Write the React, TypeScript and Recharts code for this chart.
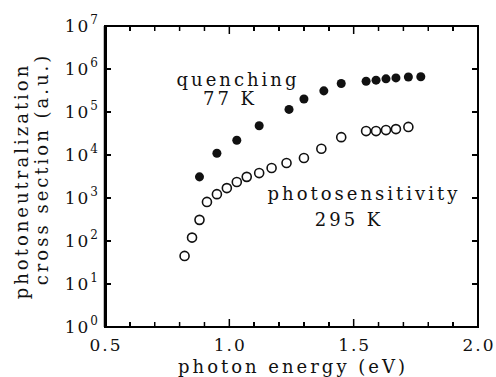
import React from "react";
import { ScatterChart, Scatter, XAxis, YAxis, ZAxis } from "recharts";

// quenching, 77 K (filled circles)
const quenchEnergy = [0.88, 0.95, 1.03, 1.12, 1.24, 1.3, 1.38, 1.45, 1.55, 1.59, 1.63, 1.67, 1.72, 1.77];
const quenchSigma = [3.1e3, 1.1e4, 2.2e4, 4.8e4, 1.15e5, 2.0e5, 3.1e5, 4.6e5, 5.2e5, 5.5e5, 5.9e5, 6.2e5, 6.5e5, 6.6e5];

// photosensitivity, 295 K (open circles)
const photoEnergy = [0.82, 0.85, 0.88, 0.91, 0.95, 0.99, 1.03, 1.07, 1.12, 1.17, 1.23, 1.3, 1.37, 1.45, 1.55, 1.59, 1.63, 1.67, 1.72];
const photoSigma = [45, 120, 310, 810, 1230, 1700, 2350, 3100, 3800, 5000, 6500, 8500, 1.4e4, 2.6e4, 3.6e4, 3.6e4, 3.8e4, 4.0e4, 4.5e4];

const xTicks = [0.5, 0.6, 0.7, 0.8, 0.9, 1.0, 1.1, 1.2, 1.3, 1.4, 1.5, 1.6, 1.7, 1.8, 1.9, 2.0];
const xLabels = ["0.5", "1.0", "1.5", "2.0"];
const yTicks = [1, 10, 100, 1e3, 1e4, 1e5, 1e6, 1e7];
const xDomain = [0.5, 2.0];
const yDomain = [1, 1e7];

const quenchData = quenchEnergy.map((x, i) => ({ x, y: quenchSigma[i] }));
const photoData = photoEnergy.map((x, i) => ({ x, y: photoSigma[i] }));

const FONT = "'DejaVu Serif', serif";
const INK = "#111";

// chart layout
const W = 496;
const H = 377;
const MARGIN_TOP = 25;
const MARGIN_RIGHT = 17;
const LEFT_W = 105;
const RIGHT_W = 1;
const TOP_H = 1;
const BOTTOM_H = 50;
const PLOT = {
  left: LEFT_W,
  top: MARGIN_TOP + TOP_H,
  right: W - MARGIN_RIGHT - RIGHT_W,
  bottom: H - BOTTOM_H,
};

const labelFor = (v: number) => xLabels.find((l) => Math.abs(parseFloat(l) - v) < 1e-6);

const BottomTick = (props: any) => {
  const { x, y, payload } = props;
  const label = labelFor(payload.value);
  const len = label ? 8 : 5;
  return (
    <g>
      <path d={`M${x},${y}V${y - len}`} stroke="#000" strokeWidth={1.5} fill="none" />
      {label && (
        <text x={x + 1} y={y + 24} textAnchor="middle" fontFamily={FONT} fontSize={17} letterSpacing={2} fill={INK}>
          {label}
        </text>
      )}
    </g>
  );
};

const TopTick = (props: any) => {
  const { x, y, payload } = props;
  const len = labelFor(payload.value) ? 8 : 5;
  return (
    <g>
      <path d={`M${x},${y}V${y + len}`} stroke="#000" strokeWidth={1.5} fill="none" />
    </g>
  );
};

const LeftTick = (props: any) => {
  const { x, y, payload } = props;
  const exp = Math.round(Math.log10(payload.value));
  return (
    <g>
      <path d={`M${x},${y}H${x + 6}`} stroke="#000" strokeWidth={1.5} fill="none" />
      <text x={x - 5} y={y + 6} textAnchor="end" fontFamily={FONT} fontSize={17} letterSpacing={2} fill={INK}>
        10
        <tspan dy={-8} fontSize={12}>
          {exp}
        </tspan>
      </text>
    </g>
  );
};

const RightTick = (props: any) => {
  const { x, y } = props;
  return (
    <g>
      <path d={`M${x},${y}H${x - 6}`} stroke="#000" strokeWidth={1.5} fill="none" />
    </g>
  );
};

const T = (p: { x: number; y: number; rotate?: boolean; children: string }) => (
  <text
    x={p.x}
    y={p.y}
    textAnchor="middle"
    dominantBaseline="central"
    fontFamily={FONT}
    fontSize={18}
    letterSpacing={3}
    fill={INK}
    transform={p.rotate ? `rotate(-90 ${p.x} ${p.y})` : undefined}
  >
    {p.children}
  </text>
);

const Texts = () => (
  <g>
    <T x={238} y={79}>quenching</T>
    <T x={230} y={98}>77 K</T>
    <T x={364} y={193}>photosensitivity</T>
    <T x={349} y={219}>295 K</T>
    <T x={293} y={366}>photon energy (eV)</T>
    <T x={21} y={181} rotate>photoneutralization</T>
    <T x={41} y={169} rotate>cross section (a.u.)</T>
  </g>
);

// plot frame and inward ticks drawn as plain html boxes over the plot area
const Frame = () => {
  const pw = PLOT.right - PLOT.left;
  const ph = PLOT.bottom - PLOT.top;
  const [x0, x1] = xDomain;
  const decades = Math.log10(yDomain[1] / yDomain[0]);
  const box = (key: string, left: number, top: number, width: number, height: number) => (
    <div key={key} style={{ position: "absolute", left, top, width, height, background: "#000" }} />
  );
  return (
    <div style={{ position: "absolute", left: 0, top: 0, width: W, height: H, pointerEvents: "none" }}>
      <div
        style={{
          position: "absolute",
          left: PLOT.left - 1.5,
          top: PLOT.top - 1,
          width: pw + 2.5,
          height: ph + 2,
          boxSizing: "border-box",
          border: "2px solid #000",
          borderLeftWidth: 3,
        }}
      />
      {xTicks.map((v) => {
        const px = PLOT.left + ((v - x0) / (x1 - x0)) * pw;
        const len = labelFor(v) ? 8 : 5;
        return (
          <React.Fragment key={`x${v}`}>
            {box(`b${v}`, px - 0.75, PLOT.bottom - len, 1.5, len)}
            {box(`t${v}`, px - 0.75, PLOT.top, 1.5, len)}
          </React.Fragment>
        );
      })}
      {yTicks.map((v) => {
        const py = PLOT.bottom - (Math.log10(v / yDomain[0]) / decades) * ph;
        return (
          <React.Fragment key={`y${v}`}>
            {box(`l${v}`, PLOT.left, py - 0.75, 6, 1.5)}
            {box(`r${v}`, PLOT.right - 6, py - 0.75, 6, 1.5)}
          </React.Fragment>
        );
      })}
    </div>
  );
};

export default function App() {
  return (
    <div style={{ position: "absolute", left: 0, top: 0, width: W, height: H, background: "#fff" }}>
      <ScatterChart width={W} height={H} margin={{ top: MARGIN_TOP, right: MARGIN_RIGHT, bottom: 0, left: 0 }}>
        <XAxis
          xAxisId="bottom"
          dataKey="x"
          type="number"
          domain={xDomain}
          ticks={xTicks}
          interval={0}
          height={BOTTOM_H}
          tickSize={0}
          tickMargin={0}
          tick={(p: any) => <BottomTick {...p} />}
          axisLine={{ stroke: "#000", strokeWidth: 2 }}
          label={{ content: () => <Texts /> }}
          allowDataOverflow
        />
        <XAxis
          xAxisId="top"
          orientation="top"
          dataKey="x"
          type="number"
          domain={xDomain}
          ticks={xTicks}
          interval={0}
          height={TOP_H}
          tickSize={0}
          tickMargin={0}
          tick={(p: any) => <TopTick {...p} />}
          axisLine={{ stroke: "#000", strokeWidth: 2 }}
          allowDataOverflow
        />
        <YAxis
          yAxisId="left"
          dataKey="y"
          type="number"
          scale="log"
          domain={yDomain}
          ticks={yTicks}
          interval={0}
          width={LEFT_W}
          tickSize={0}
          tickMargin={0}
          tick={(p: any) => <LeftTick {...p} />}
          axisLine={{ stroke: "#000", strokeWidth: 2.5 }}
          allowDataOverflow
        />
        <YAxis
          yAxisId="right"
          orientation="right"
          dataKey="y"
          type="number"
          scale="log"
          domain={yDomain}
          ticks={yTicks}
          interval={0}
          width={RIGHT_W}
          tickSize={0}
          tickMargin={0}
          tick={(p: any) => <RightTick {...p} />}
          axisLine={{ stroke: "#000", strokeWidth: 2 }}
          allowDataOverflow
        />
        <ZAxis zAxisId="filled" range={[68, 68]} />
        <ZAxis zAxisId="open" range={[50, 50]} />
        <Scatter
          data={photoData}
          xAxisId="bottom"
          yAxisId="left"
          zAxisId="open"
          fill="none"
          stroke={INK}
          strokeWidth={1.6}
          isAnimationActive={false}
        />
        <Scatter
          data={quenchData}
          xAxisId="bottom"
          yAxisId="left"
          zAxisId="filled"
          fill={INK}
          isAnimationActive={false}
        />
      </ScatterChart>
      <Frame />
    </div>
  );
}
